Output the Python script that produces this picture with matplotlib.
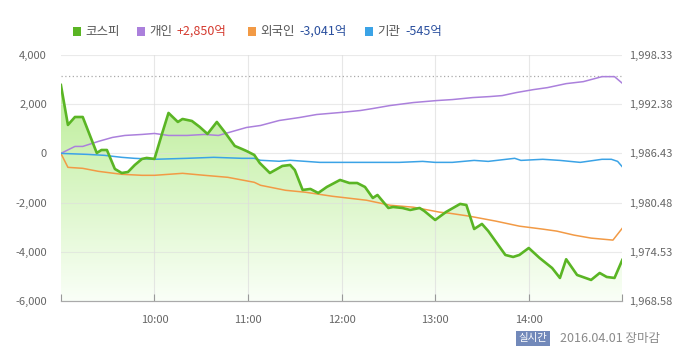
import matplotlib
matplotlib.use("Agg")
import matplotlib.pyplot as plt
import numpy as np
from matplotlib.patches import Rectangle

plt.rcParams['font.family'] = ['Noto Sans CJK KR', 'DejaVu Sans']

# minutes after 09:00
kospi_t = [0, 4.5, 9, 14, 23, 26, 29.5, 34.6, 39, 43, 47.4, 52, 55, 60, 65, 69, 75, 78, 84, 89,
           94, 100, 105, 111.5, 116, 119, 124, 127.5, 134, 142, 147, 150, 155, 160, 165, 170.5,
           179, 185, 190, 195, 200, 203, 210, 213, 219, 224, 230, 233, 240, 247, 256, 260, 265,
           270, 274, 285, 290, 294, 300, 307, 315, 320, 324, 331, 340, 345.5, 350, 355, 360]
kospi = [1994.70, 1989.87, 1990.83, 1990.83, 1986.48, 1986.84, 1986.84, 1984.55, 1984.06, 1984.18,
         1985.03, 1985.76, 1985.88, 1985.76, 1988.90, 1991.32, 1990.23, 1990.59, 1990.35, 1989.63,
         1988.78, 1990.23, 1989.02, 1987.33, 1986.97, 1986.72, 1986.24, 1985.27, 1984.06, 1984.91,
         1985.03, 1984.42, 1982.01, 1982.13, 1981.64, 1982.37, 1983.22, 1982.85, 1982.85, 1982.37,
         1981.04, 1981.40, 1979.83, 1979.95, 1979.83, 1979.59, 1979.83, 1979.47, 1978.38, 1979.35,
         1980.32, 1980.19, 1977.29, 1977.90, 1977.05, 1974.15, 1973.91, 1974.15, 1974.99, 1973.78,
         1972.57, 1971.37, 1973.63, 1971.73, 1971.13, 1971.97, 1971.49, 1971.37, 1973.55]
prev_close = 1995.79

indiv_t = [0, 9, 14, 24, 33, 41, 52, 60, 69, 81, 92, 101, 110, 119, 128, 140, 153, 164, 179, 192,
           200, 211, 226, 241, 251, 264, 275, 283, 292, 303, 312, 324, 335, 347, 355, 360]
indiv = [0, 283, 283, 486, 648, 729, 770, 810, 729, 729, 770, 729, 891, 1053, 1134, 1337, 1458,
         1580, 1661, 1742, 1823, 1944, 2066, 2147, 2187, 2268, 2309, 2349, 2471, 2592, 2673, 2835,
         2916, 3119, 3119, 2850]

foreign_t = [0, 4.5, 14, 24, 39, 52, 60, 78, 92, 107, 124, 128, 144, 157, 174, 196, 211, 226, 243,
             249, 262, 279, 294, 309, 318, 329, 340, 354, 360]
foreign = [0, -567, -607, -729, -850, -891, -891, -810, -891, -972, -1175, -1296, -1499, -1580,
           -1742, -1904, -2106, -2187, -2390, -2430, -2552, -2754, -2957, -3078, -3159, -3321,
           -3443, -3524, -3041]

inst_t = [0, 17, 28, 39, 47, 60, 81, 98, 116, 124, 128, 140, 147, 166, 179, 200, 217, 232, 240,
          251, 265, 274, 291, 295, 309, 320, 333, 347, 353, 357, 360]
inst = [0, -40, -80, -160, -200, -240, -200, -160, -200, -200, -280, -320, -280, -365, -365, -365,
        -365, -325, -365, -365, -285, -325, -200, -285, -240, -285, -365, -240, -240, -325, -545]

left_ticks = [4000, 2000, 0, -2000, -4000, -6000]
right_ticks = [1998.33, 1992.38, 1986.43, 1980.48, 1974.53, 1968.58]
hour_ticks = [60, 120, 180, 240, 300]
hour_labels = ['10:00', '11:00', '12:00', '13:00', '14:00']

green = '#5ab524'
purple = '#ab80dc'
orange = '#f29a45'
blue = '#3ba3e6'

fig = plt.figure(figsize=(7, 3.64), dpi=100)
ax = fig.add_axes([0.087, 0.173, 0.802, 0.676])
ax2 = ax.twinx()
ax.set_zorder(ax2.get_zorder() + 1)
ax.patch.set_visible(False)

# kospi area with gradient (light green at the top, fading to white)
ax2.set_ylim(right_ticks[-1], right_ticks[0])
ax2.set_xlim(0, 360)
poly = ax2.fill_between(kospi_t, kospi, right_ticks[-1], facecolor='none', edgecolor='none')
grad = np.linspace(0, 1, 256).reshape(-1, 1)
top_c = np.array([0.70, 0.92, 0.54])
bot_c = np.array([0.98, 1.0, 0.97])
img = (top_c + (bot_c - top_c) * grad).reshape(256, 1, 3)
im = ax2.imshow(img, extent=[0, 360, right_ticks[-1], right_ticks[0]], aspect='auto',
                origin='upper', zorder=1)
im.set_clip_path(poly.get_paths()[0], transform=ax2.transData)
ax2.axhline(prev_close, color='#aaaaaa', lw=0.9, ls=(0, (1, 2)), zorder=3)

for t in hour_ticks:
    ax2.axvline(t, color='#dddddd', lw=0.8, alpha=0.7, zorder=2)
for v in right_ticks[:-1]:
    ax2.axhline(v, color='#dddddd', lw=0.8, alpha=0.6, zorder=2)

ax2.set_yticks(right_ticks)
ax2.set_yticklabels(['{:,.2f}'.format(v) for v in right_ticks])
ax2.tick_params(axis='y', length=0, pad=5, labelsize=8, labelcolor='#666666')

# investor lines
ax.plot(indiv_t, indiv, color=purple, lw=1.1, zorder=3)
ax.plot(foreign_t, foreign, color=orange, lw=1.1, zorder=3)
ax.plot(inst_t, inst, color=blue, lw=1.1, zorder=3)
ax.plot(kospi_t, kospi, color=green, lw=1.9, zorder=4, transform=ax2.transData)

ax.set_ylim(-6000, 4000)
ax.set_xlim(0, 360)
ax.set_yticks(left_ticks)
ax.set_yticklabels(['{:,}'.format(v) for v in left_ticks])
ax.tick_params(axis='y', length=0, pad=10, labelsize=8, labelcolor='#666666')
ax.set_xticks([0] + hour_ticks + [360])
ax.set_xticklabels([''] + hour_labels + [''])
ax.tick_params(axis='x', direction='in', length=5, color='#999999', pad=10,
               labelsize=8, labelcolor='#666666')

for a in (ax, ax2):
    for s in ('top', 'left', 'right'):
        a.spines[s].set_visible(False)
    a.spines['bottom'].set_color('#aaaaaa')

# legend
legend_items = [
    (green, 73, '코스피', None, None),
    (purple, 137, '개인', '+2,850억', '#d43a2f'),
    (orange, 248, '외국인', '-3,041억', '#2a4f9e'),
    (blue, 365, '기관', '-545억', '#2a4f9e'),
]
for color, x0, name, val, vcol in legend_items:
    fig.patches.append(Rectangle((x0 / 700, 1 - 35.5 / 364), 8 / 700, 8 / 364,
                                 transform=fig.transFigure, facecolor=color, edgecolor='none'))
    tn = fig.text((x0 + 12) / 700, 1 - 31.5 / 364, name, fontsize=9, color='#555555', va='center')
    if val:
        fig.canvas.draw()
        bb = tn.get_window_extent()
        fig.text((bb.x1 + 5) / 700, 1 - 31.5 / 364, val, fontsize=9, color=vcol, va='center')

# footer
fig.text(533 / 700, 1 - 338.5 / 364, '실시간', fontsize=7.5, color='white', ha='center', va='center',
         bbox=dict(boxstyle='square,pad=0.25', facecolor='#7289ba', edgecolor='none'))
fig.text(560 / 700, 1 - 338.5 / 364, '2016.04.01 장마감', fontsize=9, color='#8a8a8a', va='center')

fig.savefig('out.png', dpi=100)
